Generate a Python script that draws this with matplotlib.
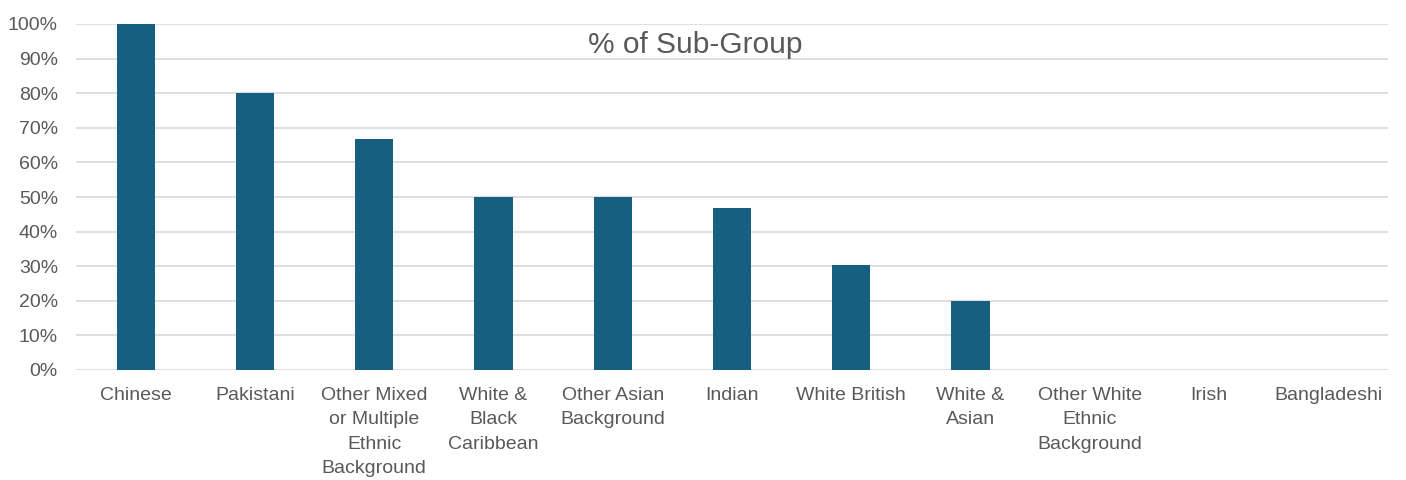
import matplotlib
matplotlib.use("Agg")
import matplotlib.pyplot as plt
from matplotlib.ticker import PercentFormatter

categories = [
    "Chinese", "Pakistani", "Other Mixed\nor Multiple\nEthnic\nBackground",
    "White &\nBlack\nCaribbean", "Other Asian\nBackground", "Indian",
    "White British", "White &\nAsian", "Other White\nEthnic\nBackground",
    "Irish", "Bangladeshi",
]
values = [100.0, 80.0, 66.7, 50.0, 50.0, 46.7, 30.3, 20.0, 0.0, 0.0, 0.0]
yticks = list(range(0, 101, 10))

text_color = "#595959"
bar_color = "#175F80"
grid_color = "#D9D9D9"

plt.rcParams["font.family"] = ["Liberation Sans", "DejaVu Sans"]

fig = plt.figure(figsize=(14.06, 4.8), dpi=100)
ax = fig.add_axes([76 / 1406, 1 - 370 / 480, (1388 - 76) / 1406, (370 - 24) / 480])

x = range(len(categories))
ax.bar(x, values, width=0.32, color=bar_color, zorder=3)

ax.set_xlim(-0.5, len(categories) - 0.5)
ax.set_ylim(0, 100)
ax.set_yticks(yticks)
ax.yaxis.set_major_formatter(PercentFormatter(decimals=0))
ax.set_xticks(list(x))
ax.set_xticklabels(categories, linespacing=1.58)

ax.grid(axis="y", color=grid_color, linewidth=1.2, zorder=0)
ax.set_axisbelow(True)
for s in ax.spines.values():
    s.set_visible(False)
ax.tick_params(axis="both", length=0, labelsize=14, colors=text_color)
ax.tick_params(axis="y", pad=13)
ax.tick_params(axis="x", pad=12)
for lbl in ax.get_xticklabels():
    lbl.set_verticalalignment("top")

fig.text(695 / 1406, 1 - 45 / 480, "% of Sub-Group", ha="center", va="center",
         fontsize=21.5, color=text_color)

fig.savefig("out.png", dpi=100, facecolor="white")
